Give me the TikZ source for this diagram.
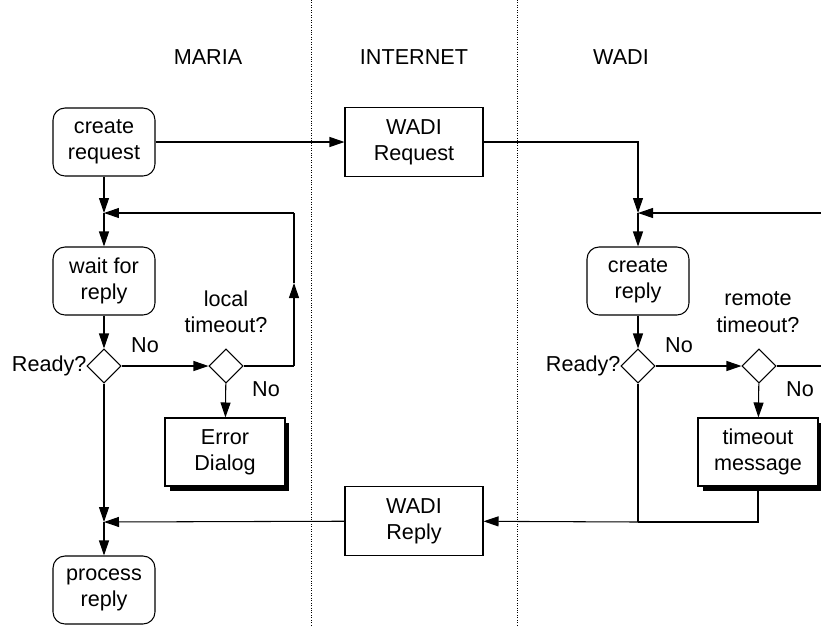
\documentclass[tikz,border=0pt]{standalone}
\usepackage{fontspec}
\setmainfont{Liberation Sans}
\usetikzlibrary{shapes.geometric, arrows.meta, shadows, positioning}

\begin{document}
\begin{tikzpicture}[
  x=0.02cm, y=-0.02cm,
  font=\fontsize{12.3}{15}\selectfont,
  line width=0.6pt,
  act/.style={draw, align=center, rounded corners=0.24cm, minimum width=2.04cm, minimum height=1.36cm, inner sep=0pt},
  msg/.style={draw, align=center, minimum width=2.76cm, minimum height=1.38cm, inner sep=0pt},
  alert/.style={draw, fill=white, align=center, minimum width=2.4cm, minimum height=1.36cm, inner sep=0pt,
    drop shadow={shadow xshift=0.09cm, shadow yshift=-0.09cm, fill=black, opacity=1}},
  decision/.style={draw, diamond, minimum size=0.68cm, inner sep=0pt},
  tag/.style={inner sep=0pt, align=center},
  flow/.style={-{Triangle[length=0.3cm,width=0.2cm]}},
  lane/.style={densely dotted, line width=0.4pt}]

  \useasboundingbox (0,0) rectangle (821,626);

  \draw[lane] (311,0) -- (311,626);
  \draw[lane] (517,0) -- (517,626);

  \node[tag] (maria) at (208,57) {MARIA};
  \node[tag] (internet) at (414,57) {INTERNET};
  \node[tag] (wadi) at (621,57) {WADI};

  \node[act] (create) at (104,142) {create\\request};
  \node[act] (wait) at (104,281) {wait for\\reply};
  \node[decision] (ready1) at (104,366) {};
  \node[decision] (local) at (226,366) {};
  \node[alert] (error) at (225,452) {Error\\Dialog};
  \node[act] (process) at (104,590) {process\\reply};

  \node[msg] (request) at (414,142) {WADI\\Request};
  \node[msg] (reply) at (414,521) {WADI\\Reply};

  \node[act] (createreply) at (638,281) {create\\reply};
  \node[decision] (ready2) at (638,366) {};
  \node[decision] (remote) at (759,366) {};
  \node[alert] (timeout) at (758,452) {timeout\\message};

  \node[tag, anchor=east] (askready1) at (87,366) {Ready?};
  \node[tag] (no1) at (145,345) {No};
  \node[tag] (asklocal) at (226,312) {local\\timeout?};
  \node[tag] (no2) at (266,389) {No};

  \node[tag, anchor=east] (askready2) at (621,366) {Ready?};
  \node[tag] (no3) at (679,345) {No};
  \node[tag] (askremote) at (758,312) {remote\\timeout?};
  \node[tag] (no4) at (800,389) {No};

  \coordinate (join1) at (104,213);
  \coordinate (join2) at (104,522);
  \coordinate (join3) at (638,213);
  \coordinate (join4) at (638,522);
  \coordinate (backL) at (294,366);
  \coordinate (upL) at (294,283);
  \coordinate (topL) at (294,213);
  \coordinate (backR) at (821,366);
  \coordinate (topR) at (821,213);

  \draw[flow] (create) -- (request);
  \draw[flow] (create) -- (join1);
  \draw[flow] (join1) -- (wait);
  \draw[flow] (wait) -- (ready1);
  \draw[flow] (ready1) -- (local);
  \draw[flow] (local) -- (error);
  \draw (local.east) -- (backL);
  \draw[flow] (backL) -- (upL);
  \draw (upL) -- (topL);
  \draw[flow] (topL) -- (join1);
  \draw[flow] (ready1) -- (join2);
  \draw[flow] (join2) -- (process);
  \draw[flow] (reply) -- (join2);

  \draw[flow] (request.east) -| (join3);
  \draw[flow] (topR) -- (join3);
  \draw[flow] (join3) -- (createreply);
  \draw[flow] (createreply) -- (ready2);
  \draw[flow] (ready2) -- (remote);
  \draw (remote.east) -- (backR);
  \draw[flow] (remote) -- (timeout);
  \draw (ready2) -- (join4);
  \draw (timeout.south) |- (join4);
  \draw[flow] (join4) -- (reply);
\end{tikzpicture}
\end{document}
